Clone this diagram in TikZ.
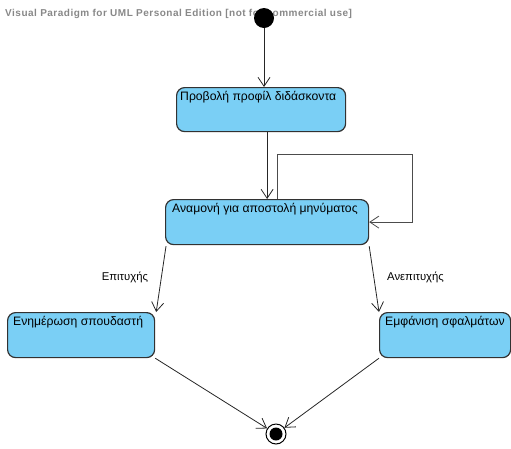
\documentclass[tikz,border=0pt]{standalone}
\usepackage{fontspec}
\setmainfont{Liberation Sans}
\usetikzlibrary{arrows.meta,calc}
\definecolor{boxfill}{RGB}{122,207,245}
\definecolor{boxline}{RGB}{50,50,50}
\definecolor{wm}{RGB}{136,136,136}
\begin{document}
\begin{tikzpicture}[x=1pt,y=-1pt,
  statebox/.style={draw=boxline,fill=boxfill,line width=1.2pt,rounded corners=8pt,inner sep=0pt,anchor=north west},
  boxtext/.style={anchor=north west,inner sep=0pt,font=\fontsize{12.2}{14}\selectfont},
  conn/.style={draw=black!85,line width=0.8pt,-{Straight Barb[length=9pt,width=12pt,line width=0.8pt]}},
  edgelabel/.style={font=\fontsize{11.3}{13}\selectfont,inner sep=0pt}]
\useasboundingbox (0,0) rectangle (511,448);
\node[anchor=west,inner sep=0pt,text=wm,font=\bfseries\fontsize{10}{12}\selectfont\addfontfeature{LetterSpace=5}] (wmark) at (5,14) {Visual Paradigm for UML Personal Edition [not for commercial use]};
\node[circle,fill=black,minimum size=20pt,inner sep=0pt] (init) at (264,18) {};
\node[statebox,minimum width=169pt,minimum height=44pt] (b1) at (176,87) {};
\node[boxtext] (t1) at ($(b1.north west)+(4,4)$) {Προβολή προφίλ διδάσκοντα};
\node[statebox,minimum width=203pt,minimum height=45pt] (b2) at (165,199) {};
\node[boxtext] (t2) at ($(b2.north west)+(7,4)$) {Αναμονή για αποστολή μηνύματος};
\node[statebox,minimum width=147pt,minimum height=45pt] (b3) at (7,312) {};
\node[boxtext] (t3) at ($(b3.north west)+(6,4)$) {Ενημέρωση σπουδαστή};
\node[statebox,minimum width=131pt,minimum height=45pt] (b4) at (379,312) {};
\node[boxtext] (t4) at ($(b4.north west)+(6,4)$) {Εμφάνιση σφαλμάτων};
\node[circle,draw=black,fill=white,line width=1pt,minimum size=20pt,inner sep=0pt] (fin) at (276,434) {};
\node[circle,fill=black,minimum size=13pt,inner sep=0pt] (finin) at (fin.center) {};
\coordinate (loopc) at (412,154);
\path[conn] (init.south) -- (init.south |- b1.north);
\path[conn] (b2.north |- b1.south) -- (b2.north);
\path[conn,draw=black!70] ($(b2.north)+(10.5,0)$) |- (loopc) |- (b2.east);
\path[conn] ($(b2.south west)+(1,1)$) -- node[edgelabel,left=13pt,pos=0.47] (l1) {Επιτυχής} ($(b3.north east)+(1,0)$);
\path[conn] ($(b2.south east)+(0,1)$) -- node[edgelabel,right=13pt,pos=0.47] (l2) {Ανεπιτυχής} (b4.north west);
\path[conn] (b3.south east) -- (fin);
\path[conn] (b4.south west) -- (fin);
\end{tikzpicture}
\end{document}
